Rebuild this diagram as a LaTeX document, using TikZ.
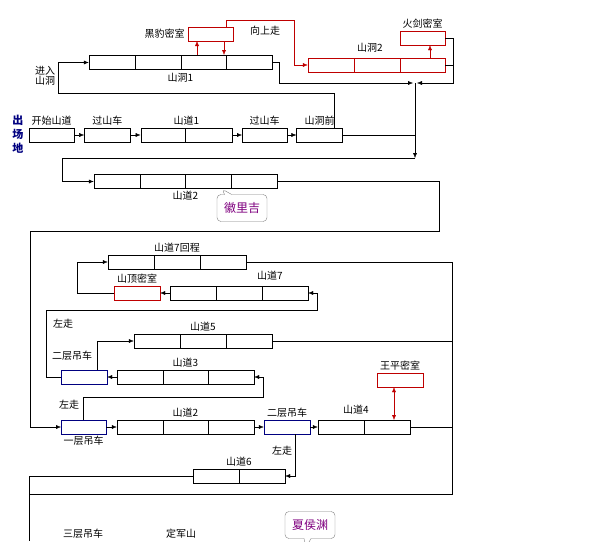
\documentclass[tikz,border=0pt]{standalone}
\usepackage{fontspec}
\setmainfont{Noto Sans CJK SC}
\usetikzlibrary{arrows.meta,positioning,shapes.callouts}

\begin{document}
\begin{tikzpicture}[x=1pt, y=-1pt, font=\fontsize{10}{11}\selectfont,
    box/.style={draw, inner sep=0pt, minimum height=14pt},
    redbox/.style={box, draw=red!75!black},
    bluebox/.style={box, draw=blue!50!black},
    arr/.style={-{Latex[length=5pt,width=4pt]}},
    redarr/.style={arr, red!75!black},
    lbl/.style={inner sep=1pt},
    bubble/.style={draw=gray, rectangle callout, rounded corners=4pt, fill=white,
        text=violet, font=\fontsize{12}{12}\selectfont, minimum width=50pt, minimum height=27pt}]
  \useasboundingbox (0,0) rectangle (615,541);
  % upper level: caves
  \node (hb) [redbox, minimum width=45pt] at (210.5,34) {};
  \node [lbl, left=2pt of hb] {黑豹密室};
  \node (sd1) [box, minimum width=183pt] at (180.5,62.5) {};
  \foreach \x in {135,181,226} \draw (\x,55.5) -- (\x,69.5);
  \node [lbl, below=2pt of sd1] {山洞1};
  \node (sd2) [redbox, minimum width=137pt] at (376.5,65) {};
  \foreach \x in {354,400} \draw[red!75!black] (\x,58) -- (\x,72);
  \node [lbl] at (370,48) {山洞2};
  \node (hj) [redbox, minimum width=45pt] at (422.5,38) {};
  \node [lbl, above=1pt of hj] {火剑密室};
  \node [lbl] at (265,31) {向上走};
  \draw[redarr] (197,55) -- (197,41);
  \draw[redarr] (224,41) -- (224,55);
  \draw[redarr] (226,27) |- (294,20) |- (sd2.west);
  \draw[redarr] (430,58) -- (hj.south -| 430,0);
  \coordinate (mj) at (415,83);
  \draw[arr] (sd1.east) -| (279,83) -- ([xshift=-2pt]mj);
  \draw[arr] (hj.east) -| (453,83) -- ([xshift=2pt]mj);
  \draw (sd2.east) -- (453,65);
  % start row
  \node [blue!50!black, font=\bfseries\fontsize{11}{14}\selectfont, align=center] at (18,134) {出\\场\\地};
  \node (ks) [box, minimum width=45pt] at (51.5,135) {};
  \node (gc1) [box, minimum width=46pt, right=10pt of ks] {};
  \node (sdd1) [box, minimum width=91pt, right=10pt of gc1] {};
  \draw (185,128) -- (185,142);
  \node (gc2) [box, minimum width=45pt, right=10pt of sdd1] {};
  \node (dq) [box, minimum width=46pt, right=9pt of gc2] {};
  \foreach \n/\t in {ks/开始山道, gc1/过山车, sdd1/山道1, gc2/过山车, dq/山洞前}
    \node [lbl, above=1pt of \n] {\t};
  \draw[arr] (ks) -- (gc1);
  \draw[arr] (gc1) -- (sdd1);
  \draw[arr] (sdd1) -- (gc2);
  \draw[arr] (gc2) -- (dq);
  \draw[arr] (dq.north -| 334,0) |- (58,93) |- (sd1.west);
  \node [lbl, align=center, font=\fontsize{10}{10}\selectfont] at (45,76) {进入\\山洞};
  \draw (dq.east) -- (415,135);
  \coordinate (jc) at (415,158);
  \draw[arr] (mj) -- (jc);
  % mountain road 2
  \node (sdd2) [box, minimum width=183pt] at (185.5,181.5) {};
  \foreach \x in {140,185,231} \draw (\x,174.5) -- (\x,188.5);
  \node [lbl, below=1pt of sdd2] {山道2};
  \draw[arr] (jc) -- (62,158) |- (sdd2.west);
  \node [bubble, callout absolute pointer={(222,189)}] at (242,208) {徽里吉};
  \draw[arr] (sdd2.east) -| (439,231) -| (30,427) -- (61,427);
  % second area
  \node (h7) [box, minimum width=138pt] at (177,262) {};
  \foreach \x in {154,200} \draw (\x,255) -- (\x,269);
  \node [lbl, above=1pt of h7] {山道7回程};
  \node (sm) [redbox, minimum width=46pt] at (137,293) {};
  \node [lbl, above=1pt of sm] {山顶密室};
  \node (sd7) [box, minimum width=138pt] at (239,293) {};
  \foreach \x in {216,262} \draw (\x,286) -- (\x,300);
  \node [lbl] at (270,276) {山道7};
  \draw[arr] (sd7) -- (sm);
  \draw[arr] (sm.west) -| (77,262) -- (h7.west);
  \node (sd5) [box, minimum width=138pt] at (203,341) {};
  \foreach \x in {180,226} \draw (\x,334) -- (\x,348);
  \node [lbl, above=1pt of sd5] {山道5};
  \node (el1) [bluebox, minimum width=46pt] at (84,377) {};
  \node [lbl] at (72,356) {二层吊车};
  \node [lbl] at (63,324) {左走};
  \node (sd3) [box, minimum width=137pt] at (185.5,377) {};
  \foreach \x in {163,208} \draw (\x,370) -- (\x,384);
  \node [lbl, above=1pt of sd3] {山道3};
  \draw[arr] (sd3) -- (el1);
  \draw[arr] (el1.west) -| (46,310) -| (317,293) -- (sd7.east);
  \draw[arr] (el1.north -| 97,0) |- (sd5.west);
  % lower row
  \node (yl) [bluebox, minimum width=45pt] at (83.5,427) {};
  \node [lbl, below=1pt of yl] {一层吊车};
  \node [lbl] at (69,405) {左走};
  \node (sd2b) [box, minimum width=137pt] at (185.5,427) {};
  \foreach \x in {163,208} \draw (\x,420) -- (\x,434);
  \node [lbl, above=1pt of sd2b] {山道2};
  \node (el2) [bluebox, minimum width=46pt] at (287,427) {};
  \node [lbl, above=1pt of el2] {二层吊车};
  \node (sd4) [box, minimum width=92pt] at (364,427) {};
  \draw (364,420) -- (364,434);
  \node [lbl] at (356,410) {山道4};
  \node (wp) [redbox, minimum width=46pt] at (400,380) {};
  \node [lbl, above=1pt of wp] {王平密室};
  \draw[{Latex[length=5pt,width=4pt]}-{Latex[length=5pt,width=4pt]}, red!75!black] (wp.south -| 394,0) -- (394,420);
  \draw[arr] (yl) -- (sd2b);
  \draw[arr] (sd2b) -- (el2);
  \draw[arr] (el2) -- (sd4);
  \draw[arr] (yl.north -| 83,0) |- (263,397) |- (sd3.east);
  \node (sd6) [box, minimum width=92pt] at (239,476) {};
  \draw (239,469) -- (239,483);
  \node [lbl, above=1pt of sd6] {山道6};
  \draw[arr] (el2.south -| 295,0) |- (sd6.east);
  \node [lbl] at (282,451) {左走};
  % right and bottom lines
  \draw (h7.east) -| (452,494) -- (29,494);
  \draw (sd5.east) -- (452,341);
  \draw (sd4.east) -- (452,427);
  \draw (sd6.west) -| (29,541);
  \node [lbl] at (83,534) {三层吊车};
  \node [lbl] at (181,534) {定军山};
  \node [bubble, callout absolute pointer={(306,547)}] at (310,525) {夏侯渊};
\end{tikzpicture}
\end{document}
